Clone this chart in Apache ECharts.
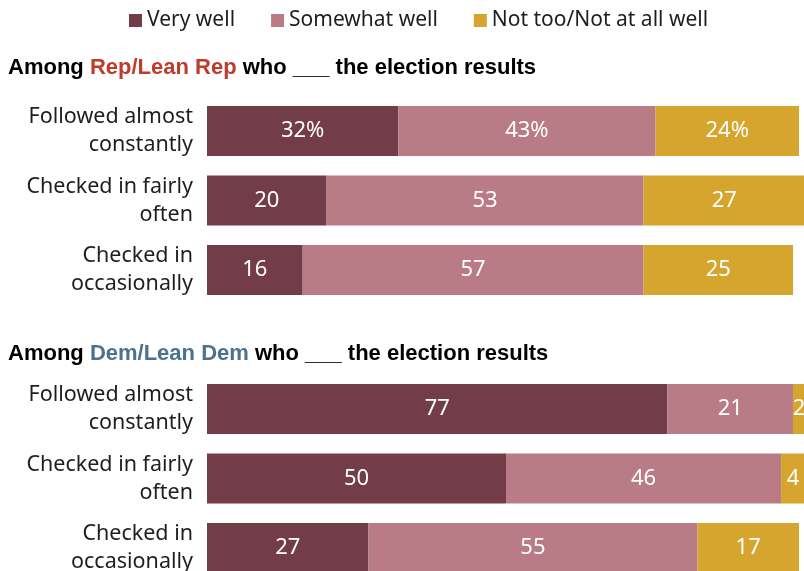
<!DOCTYPE html>
<html>
<head>
<meta charset="utf-8">
<script src="https://cdn.jsdelivr.net/npm/echarts@6/dist/echarts.min.js"></script>
<style>
  html, body { margin: 0; padding: 0; background: #fff; }
  #chart { width: 804px; height: 571px; }
</style>
</head>
<body>
<div id="chart"></div>
<script>
// Row labels shared by both panels
const categories = ['Followed almost\nconstantly', 'Checked in fairly\noften', 'Checked in\noccasionally'];

// Rep/Lean Rep
const repVeryWell = [32, 20, 16];
const repSomewhatWell = [43, 53, 57];
const repNotTooWell = [24, 27, 25];

// Dem/Lean Dem
const demVeryWell = [77, 50, 27];
const demSomewhatWell = [21, 46, 55];
const demNotTooWell = [2, 4, 17];

const seriesNames = ['Very well', 'Somewhat well', 'Not too/Not at all well'];
const colors = ['#723D48', '#B97C86', '#D5A52E'];

const FONT = '"Noto Sans", sans-serif';
const HEAD_FONT = '"Liberation Sans", Arial, sans-serif';

function barSeries(name, color, data, gridIdx, withPercentTop) {
  return {
    name: name,
    type: 'bar',
    stack: 'g' + gridIdx,
    xAxisIndex: gridIdx,
    yAxisIndex: gridIdx,
    barWidth: 50,
    clip: false,
    itemStyle: { color: color },
    label: {
      show: true,
      position: 'inside',
      color: '#fff',
      fontFamily: FONT,
      fontSize: 22,
      formatter: p => (withPercentTop && p.dataIndex === 0) ? p.value + '%' : String(p.value)
    },
    data: data
  };
}

// Categories sit on the grid edges (boundaryGap false), so each grid spans
// from the first row centre to the last row centre.
const yAxisCommon = {
  type: 'category',
  data: categories,
  inverse: true,
  boundaryGap: false,
  axisLine: { show: false },
  axisTick: { show: false },
  splitLine: { show: false },
  axisLabel: {
    color: '#1e1e1e',
    fontFamily: FONT,
    fontSize: 21.5,
    lineHeight: 28,
    margin: 14,
    align: 'right'
  }
};

const xAxisCommon = { type: 'value', min: 0, max: 100, show: false };

const headRich = (accent) => ({
  b: { fontFamily: HEAD_FONT, fontWeight: 'bold', fontSize: 22, color: '#000' },
  a: { fontFamily: HEAD_FONT, fontWeight: 'bold', fontSize: 22, color: accent }
});

const option = {
  animation: false,
  color: colors,
  legend: {
    left: 124,
    top: 5,
    icon: 'rect',
    itemWidth: 13,
    itemHeight: 13,
    itemGap: 36,
    textStyle: { fontFamily: FONT, fontSize: 21, color: '#1e1e1e' },
    data: seriesNames
  },
  title: [
    {
      left: 3, top: 52,
      text: '{b|Among }{a|Rep/Lean Rep}{b| who ___ the election results}',
      textStyle: { rich: headRich('#BF3B2A') }
    },
    {
      left: 3, top: 338,
      text: '{b|Among }{a|Dem/Lean Dem}{b| who ___ the election results}',
      textStyle: { rich: headRich('#4B7390') }
    }
  ],
  grid: [
    { left: 207, top: 131, width: 598, height: 139, outerBoundsMode: 'none' },
    { left: 207, top: 409, width: 598, height: 139, outerBoundsMode: 'none' }
  ],
  xAxis: [
    Object.assign({ gridIndex: 0 }, xAxisCommon),
    Object.assign({ gridIndex: 1 }, xAxisCommon)
  ],
  yAxis: [
    Object.assign({ gridIndex: 0 }, yAxisCommon),
    Object.assign({ gridIndex: 1 }, yAxisCommon)
  ],
  series: [
    barSeries(seriesNames[0], colors[0], repVeryWell, 0, true),
    barSeries(seriesNames[1], colors[1], repSomewhatWell, 0, true),
    barSeries(seriesNames[2], colors[2], repNotTooWell, 0, true),
    barSeries(seriesNames[0], colors[0], demVeryWell, 1, false),
    barSeries(seriesNames[1], colors[1], demSomewhatWell, 1, false),
    barSeries(seriesNames[2], colors[2], demNotTooWell, 1, false)
  ]
};

const chart = echarts.init(document.getElementById('chart'), null, { renderer: 'canvas' });
chart.setOption(option);
</script>
</body>
</html>
